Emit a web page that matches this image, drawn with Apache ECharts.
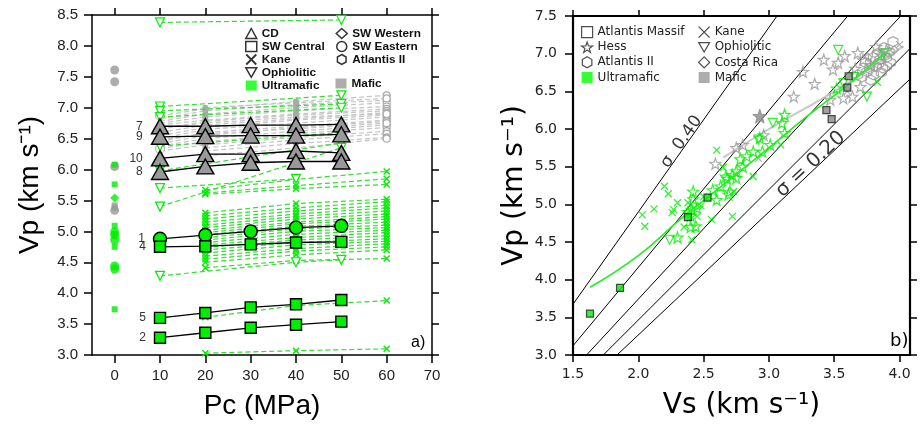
<!DOCTYPE html>
<html><head><meta charset="utf-8">
<script src="https://cdn.jsdelivr.net/npm/echarts@6/dist/echarts.min.js"></script>
<style>html,body{margin:0;padding:0;background:#fff}#c{width:920px;height:425px}</style>
</head><body><div id="c"></div>
<script>
// ---------- Panel a) data ----------
const pcTicks = [0,10,20,30,40,50,60,70];
const pcSteps = [10,20,30,40,50];
const cd7  = [6.70,6.70,6.72,6.72,6.73];
const cd9  = [6.53,6.54,6.55,6.55,6.57];
const cd10 = [6.18,6.25,6.25,6.30,6.27];
const cd8  = [5.96,6.05,6.11,6.13,6.13];
const sw1  = [4.88,4.94,5.00,5.06,5.09];
const sw4  = [4.75,4.76,4.79,4.82,4.83];
const sw5  = [3.60,3.68,3.77,3.82,3.89];
const sw2  = [3.28,3.36,3.44,3.49,3.54];

const maficPc = [10,20,40,60];
const maficLines = [
  [6.87,6.98,7.10,7.20],[6.82,6.95,7.05,7.12],[6.78,6.90,7.00,7.08],[6.75,6.85,6.95,7.02],
  [6.72,6.80,6.90,6.98],[6.65,6.78,6.88,6.95],[6.60,6.72,6.82,6.92],[6.55,6.68,6.80,6.88],
  [6.50,6.65,6.75,6.85],[6.45,6.60,6.70,6.80],[6.42,6.55,6.68,6.78],[6.38,6.50,6.62,6.72],
  [6.34,6.45,6.58,6.68],[6.30,6.40,6.52,6.62],[null,6.35,6.48,6.58],[null,6.30,6.42,6.52],
  [null,6.22,6.35,6.50],[null,7.00,7.08,7.15],[6.68,6.75,6.85,6.90],[6.48,6.58,6.66,6.75]
];
const swEastern10 = [6.87,6.34];

const kanePc = [20,40,60];
const kaneLines = [
  [5.67,5.84,5.97],[5.62,5.74,5.85],[5.60,5.69,5.76],[5.30,5.45,5.52],[5.25,5.38,5.48],
  [5.20,5.33,5.42],[5.15,5.28,5.38],[5.10,5.24,5.33],[5.06,5.20,5.28],[5.02,5.15,5.24],
  [4.98,5.12,5.20],[4.95,5.08,5.15],[4.90,5.04,5.10],[4.86,5.00,5.06],[4.82,4.95,5.02],
  [4.78,4.90,4.98],[4.74,4.86,4.93],[4.70,4.82,4.88],[4.65,4.78,4.84],[4.60,4.72,4.80],
  [4.55,4.68,4.75],[4.50,4.62,4.70],[4.41,4.53,4.56],[3.61,3.80,3.88],[3.03,3.07,3.10]
];
const ophLines = [
  [[10,8.38],[50,8.42]],
  [[10,7.02],[50,7.20]],
  [[10,6.95],[50,7.06]],
  [[10,6.85],[50,7.00]],
  [[10,6.38],[50,6.60]],
  [[10,5.98],[50,6.43]],
  [[10,5.70],[40,5.85]],
  [[10,5.40],[50,6.35]],
  [[10,4.28],[40,4.50],[50,4.54]]
];
const zeroMaficCirc = [7.61,7.42,6.05,5.34];
const zeroMaficSq   = [5.42,5.38];
const zeroUltraSq   = [6.08,5.76,5.09,4.75,3.74];
const zeroUltraCirc = [4.99,4.94,4.86,4.44,4.39];
const zeroUltraDia  = [5.54];

// ---------- Panel b) data ----------
const vsTicks = [1.5,2.0,2.5,3.0,3.5,4.0];
const sigmas = [0.40,0.35,0.30,0.25,0.20];
const amUltra = [[1.63,3.55],[1.86,3.89],[2.38,4.83],[2.53,5.09]];
const amMafic = [[3.61,6.70],[3.60,6.55],[3.44,6.25],[3.48,6.13]];
const kaneUltra = [[2.03,4.86],[2.05,4.71],[2.12,4.94],[2.20,5.24],[2.23,5.14],[2.26,4.89],[2.27,4.93],
  [2.30,5.02],[2.38,5.02],[2.41,4.53],[2.45,4.84],[2.48,4.98],[2.56,4.80],[2.60,5.72],[2.65,5.49],
  [2.72,4.84],[2.73,5.17],[3.09,5.79],[2.88,5.37],[3.83,6.62],[2.35,4.70],[2.50,5.10]];
const kaneMafic = [[4.00,7.12],[2.92,5.61],[3.60,6.50]];
const hessUltra = [[2.41,4.93],[2.42,5.17],[2.42,5.07],[2.40,4.85],[2.44,4.71],[2.40,4.70],[2.30,4.56],
  [2.60,5.06],[2.57,5.19],[2.63,5.24],[2.67,5.37],[2.68,5.34],[2.75,5.35],[2.75,5.44],[2.69,5.13],
  [3.12,6.19],[3.10,6.08],[2.93,5.88],[3.12,5.95],[3.01,5.79],[2.95,5.70],[2.88,5.70],[2.83,5.64],
  [2.80,5.50],[2.72,5.39],[2.70,5.17],[3.52,6.54],[2.45,4.95],[2.38,4.90],[2.78,5.60]];
const hessMafic = [[3.19,6.43],[3.26,6.76],[3.42,6.92],[3.49,6.79],[3.53,6.88],[3.58,6.97],[3.68,7.01],
  [3.72,6.92],[3.82,7.09],[3.86,6.98],[2.80,5.79],[2.96,5.92],[3.47,6.39],[3.57,6.41],[3.64,6.43],
  [3.70,6.56],[2.59,5.54],[3.78,6.85],[3.90,7.05],[3.66,6.80],[3.35,6.60],[2.75,5.75]];
const hessMaficFilled = [[2.93,6.17]];
const atlIIMafic = [[3.95,7.16],[3.75,6.76],[3.80,6.72],[3.82,6.83],[3.84,6.87],[3.87,6.81],[3.77,6.80],
  [3.71,6.69],[3.90,6.95],[3.92,7.02],[3.85,6.92],[3.80,6.95],[3.88,7.08],[3.74,6.88],[3.93,6.88],
  [3.86,6.75],[3.68,6.72],[3.78,6.65],[3.83,7.00],[3.90,6.83]];
const ophUltra = [[2.24,4.53],[3.03,6.08],[2.92,5.86],[3.53,7.05],[3.88,7.00],[3.75,6.43],[3.65,6.69],[3.57,6.61]];
const costaRica = [[3.76,6.95],[3.96,7.05]];
const greenTrend = [[1.63,3.90],[2.00,4.32],[2.32,4.80],[2.50,5.05],[2.75,5.40],[3.00,5.75],[3.30,6.18],[3.60,6.58],[3.88,7.00]];
const grayTrend = [[2.65,5.62],[3.00,6.00],[3.50,6.50],[4.03,7.10]];

// ---------- styles ----------
const LF = 'Liberation Sans', DF = 'DejaVu Sans';
const G = '#00ee00', GL = '#33dd33', GR = '#999999';
const TRI_DOWN = 'path://M0,0L10,0L5,8.66Z';
const HEX = 'path://M5,0L9.33,2.5L9.33,7.5L5,10L0.67,7.5L0.67,2.5Z';
const STAR = 'path://M5,0L6.176,3.382L9.755,3.455L6.902,5.618L7.939,9.045L5,7L2.061,9.045L3.098,5.618L0.245,3.455L3.824,3.382Z';
const CROSS = 'path://M0,0L10,10M10,0L0,10';
const NONE = 'rgba(0,0,0,0)';
const hollow = c => ({color: NONE, borderColor: c, borderWidth: 1.2});

const series = [];
function scat(name, data, symbol, size, itemStyle, right, z) {
  series.push({type:'scatter', name, xAxisIndex: right?2:0, yAxisIndex: right?2:0,
    data, symbol, symbolSize:size, itemStyle, z: z||3, silent:true});
}
// right panel scatter
scat('Atlantis Massif', amMafic, 'rect', 7, {color:'#888', borderColor:'#222', borderWidth:1.2}, true, 6);
scat('Atlantis Massif', amUltra, 'rect', 7, {color:G, borderColor:'#222', borderWidth:1.2}, true, 6);
scat('Hess', hessMafic, STAR, 11, hollow(GR), true, 4);
scat('Hess', hessMaficFilled, STAR, 14, {color:'#888', borderColor:'#888', borderWidth:1}, true, 4);
scat('Atlantis II', atlIIMafic, HEX, 10, hollow(GR), true, 4);
scat('Kane', kaneMafic, CROSS, 7, hollow(GR), true, 4);
scat('Costa Rica', costaRica, 'diamond', 8, hollow(GR), true, 4);
scat('Hess', hessUltra, STAR, 11, hollow(G), true, 5);
scat('Kane', kaneUltra, CROSS, 7, {color:NONE, borderColor:G, borderWidth:1.3}, true, 5);
scat('Ophiolitic', ophUltra, TRI_DOWN, 9, hollow(G), true, 5);
['Ultramafic','Mafic','CD','SW Central','SW Western','SW Eastern'].forEach(n => scat(n, [], 'circle', 1, {}, true));

// sigma lines
sigmas.forEach(s => {
  const k = Math.sqrt((2-2*s)/(1-2*s));
  series.push({type:'line', name:'sigma', xAxisIndex:2, yAxisIndex:2, clip:true, symbol:'none', silent:true,
    data:[[1.0,k*1.0],[4.6,k*4.6]], lineStyle:{color:'#000', width:1}, z:2});
});
// trend lines
series.push({type:'line', name:'trend g', xAxisIndex:2, yAxisIndex:2, smooth:true, symbol:'none', data:greenTrend,
  lineStyle:{color:'#22ee22', width:1.6}, z:6, silent:true});
series.push({type:'line', name:'trend m', xAxisIndex:2, yAxisIndex:2, smooth:true, symbol:'none', data:grayTrend,
  lineStyle:{color:'#c8c8c8', width:2}, z:3, silent:true});
// sigma labels
series.push({type:'scatter', name:'lab40', xAxisIndex:2, yAxisIndex:2, symbolSize:0, silent:true, data:[[2.33,5.83]],
  label:{show:true, position:'inside', formatter:'σ  0.40', rotate:55, fontFamily:DF, fontSize:17, color:'#000'}, z:7});
series.push({type:'scatter', name:'lab20', xAxisIndex:2, yAxisIndex:2, symbolSize:0, silent:true, data:[[3.32,5.53]],
  label:{show:true, position:'inside', formatter:'σ = 0.20', rotate:43, fontFamily:DF, fontSize:20, color:'#000'}, z:7});

// left panel dashed mafic
maficLines.forEach(vals => {
  const data = [];
  vals.forEach((v,j) => {
    if (v == null) return;
    const pc = maficPc[j];
    if (pc === 10) data.push({value:[pc,v], symbol:'none'});
    else if (pc === 60) data.push({value:[pc,v], symbol:'circle', symbolSize:7, itemStyle:{color:'#fff', borderColor:'#aaa', borderWidth:1.2}});
    else data.push({value:[pc,v], symbol:'circle', symbolSize:6, itemStyle:{color:'#aaa', borderWidth:0}});
  });
  series.push({type:'line', name:'mafic line', xAxisIndex:0, yAxisIndex:0, data, silent:true,
    lineStyle:{color:'#c4c4c4', type:[5,3], width:1.2}, z:2});
});
scat('SW Eastern pts', swEastern10.map(v=>[10,v]), 'circle', 9, {color:'#fff', borderColor:'#aaa', borderWidth:1.2}, false, 2);
// left panel dashed Kane
kaneLines.forEach(vals => {
  series.push({type:'line', name:'kane line', xAxisIndex:0, yAxisIndex:0, silent:true,
    data: vals.map((v,j)=>[kanePc[j], v]), symbol:CROSS, symbolSize:6,
    itemStyle:{color:NONE, borderColor:G, borderWidth:1.4},
    lineStyle:{color:GL, type:[5,3], width:1.2}, z:3});
});
// left panel ophiolitic
ophLines.forEach(pts => {
  series.push({type:'line', name:'oph line', xAxisIndex:0, yAxisIndex:0, silent:true,
    data: pts, symbol:TRI_DOWN, symbolSize:9,
    itemStyle:{color:'#fff', borderColor:G, borderWidth:1.2},
    lineStyle:{color:GL, type:[5,3], width:1.2}, z:3});
});
// zero-pressure points
scat('z1', zeroMaficCirc.map(v=>[0,v]), 'circle', 9, {color:GR}, false, 3);
scat('z2', zeroMaficSq.map(v=>[0,v]), 'rect', 6, {color:GR}, false, 3);
scat('z3', zeroUltraSq.map(v=>[0,v]), 'rect', 6, {color:G}, false, 3);
scat('z4', zeroUltraCirc.map(v=>[0,v]), 'circle', 9, {color:G}, false, 3);
scat('z5', zeroUltraDia.map(v=>[0,v]), 'diamond', 9, {color:G}, false, 3);
// solid labelled series
function solid(label, vals, symbol, size, fill) {
  series.push({type:'line', name:'sample '+label, xAxisIndex:0, yAxisIndex:0, silent:true,
    data: vals.map((v,j)=> j===0 ? {value:[pcSteps[j],v], label:{show:true, position:'left', distance:8,
      formatter:label, fontFamily:LF, fontSize:12, color:'#333'}} : [pcSteps[j],v]),
    symbol, symbolSize:size, itemStyle:{color:fill, borderColor:'#000', borderWidth:1.4},
    lineStyle:{color:'#000', width:1.3}, z:8});
}
solid('7', cd7, 'triangle', [17,15], GR);
solid('9', cd9, 'triangle', [17,15], GR);
solid('10', cd10, 'triangle', [17,15], GR);
solid('8', cd8, 'triangle', [17,15], GR);
solid('1', sw1, 'circle', 13, G);
solid('4', sw4, 'rect', 11, G);
solid('5', sw5, 'rect', 11, G);
solid('2', sw2, 'rect', 11, G);

const blk = {color:'#000', width:1.5};
const blk2 = {color:'#000', width:2.2};
const A = o => Object.assign({type:'value', splitLine:{show:false}}, o);
const hb = {color:NONE, borderColor:'#000', borderWidth:1.5};
const legL = {orient:'vertical', padding:0, itemWidth:11, itemHeight:10, itemGap:1.0, selectedMode:false,
  textStyle:{fontFamily:LF, fontWeight:'bold', fontSize:11.8, color:'#111', lineHeight:10}};
const legR = {orient:'vertical', padding:0, itemWidth:11, itemHeight:11, itemGap:3, selectedMode:false,
  textStyle:{fontFamily:DF, fontSize:12, color:'#222', lineHeight:11}};

const option = {
  animation:false, backgroundColor:'#fff',
  grid:[{left:92, top:15, width:340, height:341}, {left:573, top:16, width:337, height:340}],
  xAxis:[
    A({gridIndex:0, min:-5, max:70, position:'bottom', axisLine:{show:true, onZero:false, lineStyle:blk},
      axisTick:{show:true, length:8, customValues:pcTicks, lineStyle:blk},
      axisLabel:{customValues:pcTicks, fontFamily:LF, fontSize:15, color:'#222', margin:13},
      name:'Pc (MPa)', nameLocation:'middle', nameGap:37, nameTextStyle:{fontFamily:LF, fontSize:28, color:'#000'}}),
    A({gridIndex:0, min:-5, max:70, position:'top', axisLine:{show:true, onZero:false, lineStyle:blk},
      axisTick:{show:true, length:7, customValues:pcTicks, lineStyle:blk}, axisLabel:{show:false}}),
    A({gridIndex:1, min:1.5, max:4.08, position:'bottom', axisLine:{show:true, onZero:false, lineStyle:blk2},
      axisTick:{show:true, length:7, customValues:vsTicks, lineStyle:blk},
      axisLabel:{customValues:vsTicks, fontFamily:DF, fontSize:14, color:'#222', margin:12, formatter:v=>v.toFixed(1)},
      name:'Vs (km s⁻¹)', nameLocation:'middle', nameGap:37, nameTextStyle:{fontFamily:DF, fontSize:28, color:'#000'}}),
    A({gridIndex:1, min:1.5, max:4.08, position:'top', axisLine:{show:true, onZero:false, lineStyle:blk2},
      axisTick:{show:true, length:6, customValues:vsTicks, lineStyle:blk}, axisLabel:{show:false}})
  ],
  yAxis:[
    A({gridIndex:0, min:3, max:8.5, interval:0.5, position:'left', axisLine:{show:true, onZero:false, lineStyle:blk},
      axisTick:{show:true, length:8, lineStyle:blk},
      axisLabel:{fontFamily:LF, fontSize:15, color:'#222', margin:14, formatter:v=>v.toFixed(1)},
      name:'Vp (km s⁻¹)', nameLocation:'middle', nameGap:48, nameTextStyle:{fontFamily:LF, fontSize:28, color:'#000'}}),
    A({gridIndex:0, min:3, max:8.5, interval:0.5, position:'right', axisLine:{show:true, onZero:false, lineStyle:blk},
      axisTick:{show:true, length:7, lineStyle:blk}, axisLabel:{show:false}}),
    A({gridIndex:1, min:3, max:7.5, interval:0.5, position:'left', axisLine:{show:true, onZero:false, lineStyle:blk2},
      axisTick:{show:true, length:8, lineStyle:blk},
      axisLabel:{fontFamily:DF, fontSize:14, color:'#222', margin:16, formatter:v=>v.toFixed(1)},
      name:'Vp (km s⁻¹)', nameLocation:'middle', nameGap:44, nameTextStyle:{fontFamily:DF, fontSize:28, color:'#000'}}),
    A({gridIndex:1, min:3, max:7.5, interval:0.5, position:'right', axisLine:{show:true, onZero:false, lineStyle:blk2},
      axisTick:{show:true, length:7, lineStyle:blk}, axisLabel:{show:false}})
  ],
  legend:[
    Object.assign({left:245, top:27.5,
     data:[{name:'CD', icon:'triangle', itemStyle:hb}, {name:'SW Central', icon:'rect', itemStyle:hb},
           {name:'Kane', icon:CROSS, itemStyle:{color:NONE, borderColor:'#000', borderWidth:1.8}},
           {name:'Ophiolitic', icon:TRI_DOWN, itemStyle:hb},
           {name:'Ultramafic', icon:'rect', itemStyle:{color:'#00ff00', borderWidth:0}}]}, legL),
    Object.assign({left:335.5, top:27.5,
     data:[{name:'SW Western', icon:'diamond', itemStyle:hb}, {name:'SW Eastern', icon:'circle', itemStyle:hb},
           {name:'Atlantis II', icon:HEX, itemStyle:hb}]}, legL),
    Object.assign({left:335.5, top:77.5,
     data:[{name:'Mafic', icon:'rect', itemStyle:{color:'#999', borderWidth:0}}]}, legL),
    Object.assign({left:581, top:26,
     data:[{name:'Atlantis Massif', icon:'rect', itemStyle:{color:NONE, borderColor:'#222', borderWidth:1.2}},
           {name:'Hess', icon:STAR, itemStyle:{color:NONE, borderColor:'#222', borderWidth:1.2}},
           {name:'Atlantis II', icon:HEX, itemStyle:{color:NONE, borderColor:'#222', borderWidth:1.2}},
           {name:'Ultramafic', icon:'rect', itemStyle:{color:'#00ff00', borderWidth:0}}]}, legR),
    Object.assign({left:698, top:26,
     data:[{name:'Kane', icon:CROSS, itemStyle:{color:NONE, borderColor:'#222', borderWidth:1.3}},
           {name:'Ophiolitic', icon:TRI_DOWN, itemStyle:{color:NONE, borderColor:'#222', borderWidth:1.2}},
           {name:'Costa Rica', icon:'diamond', itemStyle:{color:NONE, borderColor:'#222', borderWidth:1.2}},
           {name:'Mafic', icon:'rect', itemStyle:{color:'#999', borderWidth:0}}]}, legR)
  ],
  graphic:[
    {type:'text', left:411, top:335, style:{text:'a)', font:'16px "Liberation Sans"', fill:'#000'}},
    {type:'text', left:890, top:332, style:{text:'b)', font:'18px "DejaVu Sans"', fill:'#000'}}
  ],
  series
};
const chart = echarts.init(document.getElementById('c'), null, {renderer:'canvas'});
chart.setOption(option);
</script></body></html>
